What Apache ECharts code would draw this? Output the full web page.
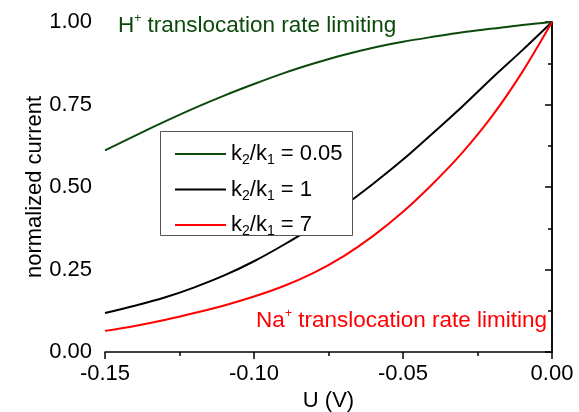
<!DOCTYPE html>
<html>
<head>
<meta charset="utf-8">
<script src="https://cdn.jsdelivr.net/npm/echarts@6/dist/echarts.min.js"></script>
<style>html,body{margin:0;padding:0;background:#fff}#c{width:579px;height:412px}</style>
</head>
<body>
<div id="c"></div>
<script>
// Data
var voltage = [-0.15,-0.14,-0.13,-0.12,-0.11,-0.10,-0.09,-0.08,-0.07,-0.06,-0.05,-0.04,-0.03,-0.02,-0.01,0.00];
var ratio005 = [0.611,0.655,0.698,0.739,0.777,0.812,0.845,0.874,0.900,0.922,0.940,0.955,0.969,0.980,0.991,1.000];
var ratio1   = [0.118,0.140,0.165,0.196,0.232,0.275,0.325,0.380,0.442,0.510,0.583,0.663,0.745,0.831,0.914,1.000];
var ratio7   = [0.064,0.079,0.097,0.118,0.141,0.168,0.200,0.240,0.290,0.352,0.425,0.510,0.605,0.716,0.848,1.000];
var seriesNames = ['k2/k1 = 0.05','k2/k1 = 1','k2/k1 = 7'];
var legendLabels = {
  'k2/k1 = 0.05': '{m|k}{s|2}{m|/k}{s|1}{m| = 0.05}',
  'k2/k1 = 1': '{m|k}{s|2}{m|/k}{s|1}{m| = 1}',
  'k2/k1 = 7': '{m|k}{s|2}{m|/k}{s|1}{m| = 7}'
};
var xTicks = {min:-0.15, max:0, interval:0.05};
var yTicks = {min:0, max:1, interval:0.25};

var GREEN = '#0b4a0b', RED = '#ff0000', FONT = '"Liberation Sans", Arial, sans-serif';
function pairs(ys){ return voltage.map(function(x,i){ return [x, ys[i]]; }); }

var chart = echarts.init(document.getElementById('c'), null, {renderer:'canvas'});
var axisCommon = {
  axisLine:{show:true, lineStyle:{color:'#000', width:1.5}},
  splitLine:{show:false},
  minorSplitLine:{show:false}
};
chart.setOption({
  animation:false,
  backgroundColor:'#fff',
  grid:{left:105, right:27, top:22, bottom:60, containLabel:false, outerBoundsMode:'none'},
  xAxis:[Object.assign({
    type:'value', min:xTicks.min, max:xTicks.max, interval:xTicks.interval,
    name:'U (V)', nameLocation:'middle', nameGap:37,
    nameTextStyle:{fontSize:22, color:'#000', fontFamily:FONT},
    axisTick:{show:true, inside:false, length:7, lineStyle:{color:'#000', width:1.5}},
    minorTick:{show:true, splitNumber:2, length:4, lineStyle:{color:'#000', width:1.5}},
    axisLabel:{fontSize:22, color:'#000', fontFamily:FONT, margin:11,
      formatter:function(v){ return v.toFixed(2); }}
  }, axisCommon)],
  yAxis:[Object.assign({
    type:'value', min:yTicks.min, max:yTicks.max, interval:yTicks.interval, position:'left',
    name:'normalized current', nameLocation:'middle', nameGap:59, nameMoveOverlap:false,
    nameTextStyle:{fontSize:22, color:'#000', fontFamily:FONT},
    axisTick:{show:true, inside:false, length:7, lineStyle:{color:'#000', width:1.5}},
    minorTick:{show:true, splitNumber:2, length:4, lineStyle:{color:'#000', width:1.5}},
    axisLabel:{fontSize:22, color:'#000', fontFamily:FONT, margin:13,
      formatter:function(v){ return v.toFixed(2); }}
  }, axisCommon), Object.assign({
    type:'value', min:yTicks.min, max:yTicks.max, interval:yTicks.interval, position:'right',
    axisTick:{show:true, inside:true, length:7, lineStyle:{color:'#000', width:1.5}},
    minorTick:{show:true, splitNumber:2, length:4, lineStyle:{color:'#000', width:1.5}},
    axisLabel:{show:false}
  }, axisCommon)],
  legend:{
    orient:'vertical', left:160, top:131, zlevel:1, z:10,
    data:seriesNames,
    itemWidth:51, itemHeight:14, itemGap:11,
    padding:[12,8,0,15],
    borderWidth:0,
    icon:'path://M0,6 L51,6 L51,8 L0,8 Z',
    formatter:function(n){ return legendLabels[n]; },
    textStyle:{
      color:'#000', fontFamily:FONT, fontSize:22,
      rich:{
        m:{fontSize:22, fontFamily:FONT, color:'#000', lineHeight:27},
        s:{fontSize:14, fontFamily:FONT, color:'#000', verticalAlign:'bottom'}
      }
    }
  },
  graphic:[
    {type:'rect', left:160, top:131, z:0, zlevel:1,
      shape:{width:192, height:104},
      style:{fill:'#fff', stroke:'#555', lineWidth:1}},
    {type:'text', left:118, top:13, z:10, zlevel:1,
      style:{text:'{m|H}{p|+}{m| translocation rate limiting}', fill:GREEN, font:'22.5px '+FONT,
        rich:{m:{fontSize:22.5, fontFamily:FONT, fill:GREEN, color:GREEN, lineHeight:26},
              p:{fontSize:12, fontFamily:FONT, fill:GREEN, color:GREEN, verticalAlign:'top'}}}},
    {type:'text', right:32, top:308, z:10, zlevel:1,
      style:{text:'{m|Na}{p|+}{m| translocation rate limiting}', fill:RED, font:'22.5px '+FONT,
        rich:{m:{fontSize:22.5, fontFamily:FONT, fill:RED, color:RED, lineHeight:26},
              p:{fontSize:12, fontFamily:FONT, fill:RED, color:RED, verticalAlign:'top'}}}}
  ],
  series:[
    {name:seriesNames[0], type:'line', data:pairs(ratio005), smooth:0.3, symbol:'none',
      itemStyle:{color:GREEN}, lineStyle:{color:GREEN, width:2}},
    {name:seriesNames[1], type:'line', data:pairs(ratio1), smooth:0.3, symbol:'none',
      itemStyle:{color:'#000'}, lineStyle:{color:'#000', width:2}},
    {name:seriesNames[2], type:'line', data:pairs(ratio7), smooth:0.3, symbol:'none',
      itemStyle:{color:RED}, lineStyle:{color:RED, width:2}}
  ]
});
</script>
</body>
</html>
